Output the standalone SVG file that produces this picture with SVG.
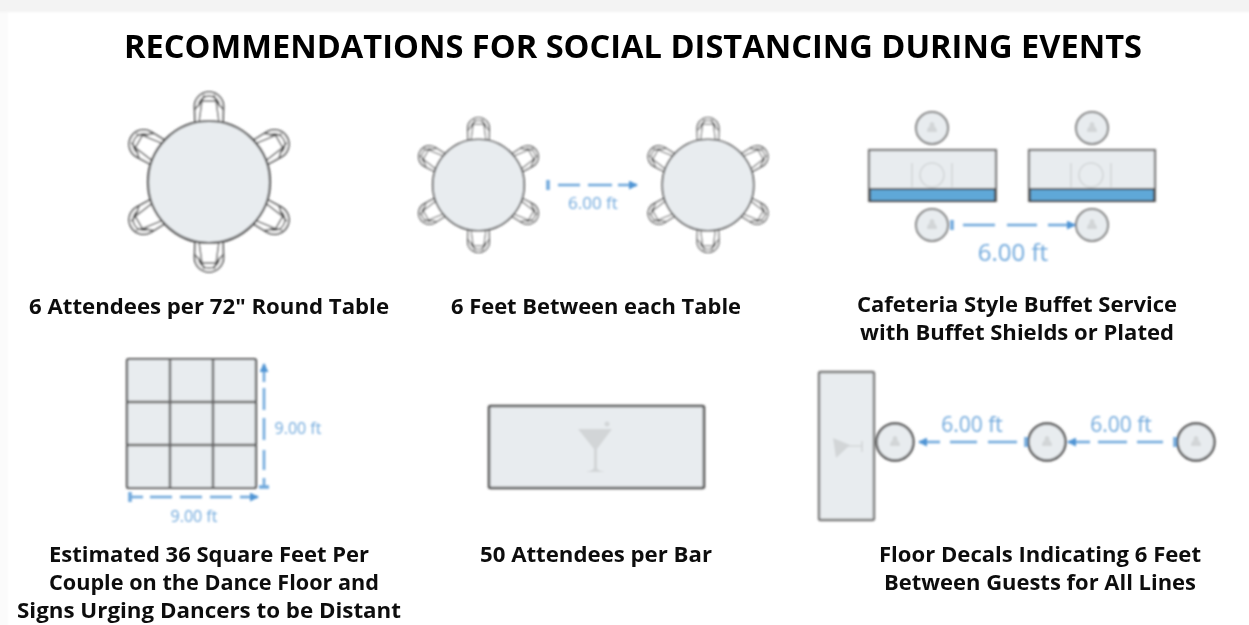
<svg xmlns="http://www.w3.org/2000/svg" xmlns:xlink="http://www.w3.org/1999/xlink" width="1249" height="625" viewBox="0 0 1249 625">
<style>
.title{font:700 32px "Open Sans","Noto Sans",sans-serif;fill:#000;text-anchor:middle}
.cap{font:700 20.5px "Open Sans","Noto Sans",sans-serif;fill:#111;text-anchor:middle}
.dim{font-family:"Open Sans","Noto Sans",sans-serif;fill:#6fa8dc;text-anchor:middle}
.surf{fill:#e8ecef;stroke:#555;stroke-width:2.200}
.chair{fill:#fff;stroke:#444;stroke-width:1.600}
.chairi{fill:none;stroke:#555;stroke-width:1.400}
.dash{fill:none;stroke:#6fa8dc;stroke-width:2.600}
.tick{fill:none;stroke:#6fa8dc;stroke-width:3.500}
.ghost{fill:#d2d5d7;stroke:none}
.ghostl{fill:none;stroke:#d2d5d7;stroke-width:1.600}
.guest{fill:#e8ecef;stroke:#555;stroke-width:2.400}
.guestb{fill:#e8ecef;stroke:#808080;stroke-width:2}
</style>
<defs>
<filter id="soft" x="-2%" y="-2%" width="104%" height="104%"><feGaussianBlur stdDeviation="0.85"/></filter>
<filter id="softtext" x="-2%" y="-2%" width="104%" height="104%"><feGaussianBlur stdDeviation="0.5"/></filter>
<marker id="ah" viewBox="0 0 10 10" refX="9" refY="5" markerWidth="9" markerHeight="9" markerUnits="userSpaceOnUse" orient="auto"><path d="M0,0L10,5L0,10z" fill="#4f94d4"/></marker>
<g id="chair">
<path class="chair" d="M-14,-60L-14.500,-75.500A14.500,14.500 0 0 1 14.500,-75.500L14,-60z"/>
<path class="chairi" d="M-10,-60L-7,-81H7L10,-60M-10.500,-75.500A10.500,10.500 0 0 1 10.500,-75.500M-14.500,-72L-7,-81M14.500,-72L7,-81M-7,-81L-5,-87M7,-81L5,-87"/>
</g>
<g id="table">
<use xlink:href="#chair"/>
<use xlink:href="#chair" transform="rotate(60)"/>
<use xlink:href="#chair" transform="rotate(120)"/>
<use xlink:href="#chair" transform="rotate(180)"/>
<use xlink:href="#chair" transform="rotate(240)"/>
<use xlink:href="#chair" transform="rotate(300)"/>
<circle class="surf" r="61"/>
</g>
<path id="person" class="ghost" d="M-5,4C-5,-1 -2,-2 -2,-2A2.500,2.500 0 1 1 2,-2C2,-2 5,-1 5,4z"/>
<g id="plate">
<circle class="ghostl" r="12"/>
<path class="ghostl" d="M-20,-12V12M20,-12V12"/>
</g>
</defs>
<rect width="1249" height="625" fill="#fff"/>
<g filter="url(#soft)">
<rect x="-5" y="-5" width="1259" height="17" fill="#f3f3f3"/>
<rect x="-5" y="12" width="13" height="618" fill="#fbfbfb"/>

<g id="table-72-round"><use xlink:href="#table" transform="translate(209,182)"/></g>
<g id="table-left"><use xlink:href="#table" transform="translate(478.500,185) scale(.75)"/></g>
<g id="table-right"><use xlink:href="#table" transform="translate(708,185) scale(.75)"/></g>
<text class="dim" x="593" y="209" font-size="17">6.00 ft</text>

<g id="buffet-left">
<circle class="guestb" cx="932" cy="128" r="16"/><use xlink:href="#person" transform="translate(932,128)"/>
<rect class="surf" x="869" y="150" width="127" height="51" style="stroke:#777"/>
<use xlink:href="#plate" transform="translate(932,175)"/>
<rect x="870" y="189" width="125" height="12" fill="#5fa8d8" stroke="#444" stroke-width="1.800"/>
</g>
<g id="buffet-right">
<circle class="guestb" cx="1092" cy="128" r="16"/><use xlink:href="#person" transform="translate(1092,128)"/>
<rect class="surf" x="1029" y="150" width="126" height="51" style="stroke:#777"/>
<use xlink:href="#plate" transform="translate(1091,175)"/>
<rect x="1030" y="189" width="124" height="12" fill="#5fa8d8" stroke="#444" stroke-width="1.800"/>
</g>
<g id="guest-buffet-a"><circle class="guestb" cx="932" cy="225" r="16"/><use xlink:href="#person" transform="translate(932,225)"/></g>
<g id="guest-buffet-b"><circle class="guestb" cx="1092" cy="225" r="16"/><use xlink:href="#person" transform="translate(1092,225)"/></g>
<text class="dim" x="1013" y="261" font-size="24">6.00 ft</text>

<g id="dance-floor">
<rect class="surf" x="127" y="359" width="129" height="129" rx="1.500"/>
<path fill="none" stroke="#666" stroke-width="2.400" d="M170,359V488M213,359V488M127,402H256M127,445H256"/>
</g>
<text class="dim" x="298" y="434" font-size="16">9.00 ft</text>
<text class="dim" x="194" y="522" font-size="16">9.00 ft</text>

<g id="bar">
<rect class="surf" x="489" y="406" width="215" height="82" rx="1.500" style="stroke-width:2.600"/>
<path class="ghost" d="M578,429H612L597,449V467C597,470 600,471 605,472H586C590,471 594,470 594,467V449z"/>
<circle class="ghost" cx="607" cy="424" r="2.500"/>
</g>

<g id="floor-bar">
<rect class="surf" x="819" y="372" width="55" height="148" rx="1.500" style="stroke:#777;stroke-width:2.400"/>
<path class="ghost" d="M833,438L850,445L836,458z"/>
<path class="ghostl" d="M848,446H862M862,441V452"/>
</g>
<g id="guest-line-a"><circle class="guest" cx="895" cy="442" r="18.500"/><use xlink:href="#person" transform="translate(895,442)"/></g>
<g id="guest-line-b"><circle class="guest" cx="1047" cy="442" r="18.500"/><use xlink:href="#person" transform="translate(1047,442)"/></g>
<g id="guest-line-c"><circle class="guest" cx="1196" cy="442" r="18.500"/><use xlink:href="#person" transform="translate(1196,442)"/></g>
<text class="dim" x="972" y="432" font-size="21">6.00 ft</text>
<text class="dim" x="1121" y="432" font-size="21">6.00 ft</text>

<g id="connectors">
<path class="tick" d="M548,180V190"/>
<path class="dash" d="M558,185H580M588,185H612"/>
<path class="dash" d="M618,185H637" marker-end="url(#ah)"/>
<path class="tick" d="M952,220V230"/>
<path class="dash" d="M963,225H995M1007,225H1037"/>
<path class="dash" d="M1048,225H1075" marker-end="url(#ah)"/>
<path class="tick" d="M259,487H269"/>
<path class="dash" d="M264,487V478M264,470V450M264,440V418M264,410V388"/>
<path class="dash" d="M264,382V364" marker-end="url(#ah)"/>
<path class="tick" d="M130,492V502"/>
<path class="dash" d="M130,497H143M150,497H172M180,497H202M210,497H232"/>
<path class="dash" d="M240,497H258" marker-end="url(#ah)"/>
<path class="tick" d="M1026,437V447"/>
<path class="dash" d="M1017,442H988M977,442H950"/>
<path class="dash" d="M940,442H919" marker-end="url(#ah)"/>
<path class="tick" d="M1175,437V447"/>
<path class="dash" d="M1163,442H1137M1127,442H1098"/>
<path class="dash" d="M1090,442H1068" marker-end="url(#ah)"/>
</g>
</g>
<g id="captions" filter="url(#softtext)">
<text class="title" x="633" y="58" textLength="1018" lengthAdjust="spacingAndGlyphs">RECOMMENDATIONS FOR SOCIAL DISTANCING DURING EVENTS</text>
<text class="cap" x="209" y="314" textLength="360" lengthAdjust="spacingAndGlyphs">6 Attendees per 72" Round Table</text>
<text class="cap" x="596" y="314" textLength="290" lengthAdjust="spacingAndGlyphs">6 Feet Between each Table</text>
<text class="cap" x="1017" y="312" textLength="320" lengthAdjust="spacingAndGlyphs">Cafeteria Style Buffet Service</text>
<text class="cap" x="1017" y="340" textLength="314" lengthAdjust="spacingAndGlyphs">with Buffet Shields or Plated</text>
<text class="cap" x="209" y="562" textLength="320" lengthAdjust="spacingAndGlyphs">Estimated 36 Square Feet Per</text>
<text class="cap" x="214" y="590" textLength="330" lengthAdjust="spacingAndGlyphs">Couple on the Dance Floor and</text>
<text class="cap" x="209" y="618" textLength="384" lengthAdjust="spacingAndGlyphs">Signs Urging Dancers to be Distant</text>
<text class="cap" x="596" y="562" textLength="232" lengthAdjust="spacingAndGlyphs">50 Attendees per Bar</text>
<text class="cap" x="1040" y="562" textLength="322" lengthAdjust="spacingAndGlyphs">Floor Decals Indicating 6 Feet</text>
<text class="cap" x="1040" y="590" textLength="312" lengthAdjust="spacingAndGlyphs">Between Guests for All Lines</text>
</g>
</svg>
